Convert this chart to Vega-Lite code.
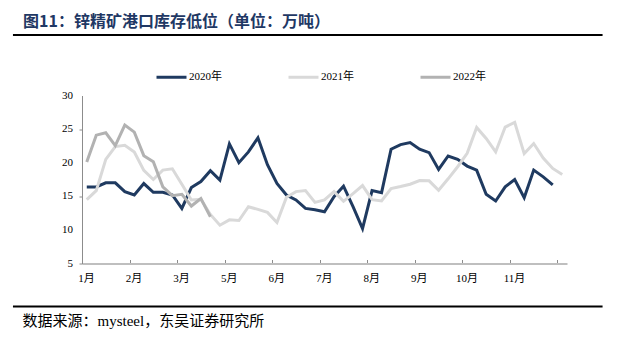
{
  "$schema": "https://vega.github.io/schema/vega-lite/v6.json",
  "width": 485,
  "height": 168,
  "autosize": "none",
  "padding": {"left": 82, "top": 95.5, "right": 66, "bottom": 82.5},
  "background": "white",
  "config": {
    "view": {"stroke": null},
    "font": "Liberation Serif",
    "axis": {"labelFlush": false, "labelBound": false}
  },
  "title": {
    "text": "图11：锌精矿港口库存低位（单位：万吨）",
    "anchor": "start",
    "frame": "group",
    "dx": -59,
    "fontSize": 16,
    "fontWeight": "bold",
    "color": "#1f3864",
    "font": "Noto Sans CJK SC"
  },
  "datasets": {
    "series": [
      {"week": 0, "series": "2020年", "value": 16.4},
      {"week": 1, "series": "2020年", "value": 16.4},
      {"week": 2, "series": "2020年", "value": 17.0},
      {"week": 3, "series": "2020年", "value": 17.0},
      {"week": 4, "series": "2020年", "value": 15.7},
      {"week": 5, "series": "2020年", "value": 15.2},
      {"week": 6, "series": "2020年", "value": 16.9},
      {"week": 7, "series": "2020年", "value": 15.6},
      {"week": 8, "series": "2020年", "value": 15.6},
      {"week": 9, "series": "2020年", "value": 15.2},
      {"week": 10, "series": "2020年", "value": 13.2},
      {"week": 11, "series": "2020年", "value": 16.3},
      {"week": 12, "series": "2020年", "value": 17.2},
      {"week": 13, "series": "2020年", "value": 18.8},
      {"week": 14, "series": "2020年", "value": 17.4},
      {"week": 15, "series": "2020年", "value": 22.8},
      {"week": 16, "series": "2020年", "value": 20.0},
      {"week": 17, "series": "2020年", "value": 21.6},
      {"week": 18, "series": "2020年", "value": 23.7},
      {"week": 19, "series": "2020年", "value": 19.7},
      {"week": 20, "series": "2020年", "value": 16.9},
      {"week": 21, "series": "2020年", "value": 15.2},
      {"week": 22, "series": "2020年", "value": 14.45},
      {"week": 23, "series": "2020年", "value": 13.2},
      {"week": 24, "series": "2020年", "value": 13.0},
      {"week": 25, "series": "2020年", "value": 12.7},
      {"week": 26, "series": "2020年", "value": 14.95},
      {"week": 27, "series": "2020年", "value": 16.5},
      {"week": 28, "series": "2020年", "value": 13.45},
      {"week": 29, "series": "2020年", "value": 10.2},
      {"week": 30, "series": "2020年", "value": 15.85},
      {"week": 31, "series": "2020年", "value": 15.55},
      {"week": 32, "series": "2020年", "value": 22.0},
      {"week": 33, "series": "2020年", "value": 22.7},
      {"week": 34, "series": "2020年", "value": 23.0},
      {"week": 35, "series": "2020年", "value": 22.0},
      {"week": 36, "series": "2020年", "value": 21.5},
      {"week": 37, "series": "2020年", "value": 19.0},
      {"week": 38, "series": "2020年", "value": 21.0},
      {"week": 39, "series": "2020年", "value": 20.5},
      {"week": 40, "series": "2020年", "value": 19.5},
      {"week": 41, "series": "2020年", "value": 18.9},
      {"week": 42, "series": "2020年", "value": 15.3},
      {"week": 43, "series": "2020年", "value": 14.3},
      {"week": 44, "series": "2020年", "value": 16.4},
      {"week": 45, "series": "2020年", "value": 17.5},
      {"week": 46, "series": "2020年", "value": 14.8},
      {"week": 47, "series": "2020年", "value": 18.9},
      {"week": 48, "series": "2020年", "value": 17.9},
      {"week": 49, "series": "2020年", "value": 16.7},
      {"week": 0, "series": "2021年", "value": 14.5},
      {"week": 1, "series": "2021年", "value": 15.85},
      {"week": 2, "series": "2021年", "value": 20.5},
      {"week": 3, "series": "2021年", "value": 22.4},
      {"week": 4, "series": "2021年", "value": 22.6},
      {"week": 5, "series": "2021年", "value": 21.6},
      {"week": 6, "series": "2021年", "value": 18.85},
      {"week": 7, "series": "2021年", "value": 17.5},
      {"week": 8, "series": "2021年", "value": 18.9},
      {"week": 9, "series": "2021年", "value": 19.1},
      {"week": 10, "series": "2021年", "value": 16.8},
      {"week": 11, "series": "2021年", "value": 14.45},
      {"week": 12, "series": "2021年", "value": 14.55},
      {"week": 13, "series": "2021年", "value": 12.3},
      {"week": 14, "series": "2021年", "value": 10.7},
      {"week": 15, "series": "2021年", "value": 11.5},
      {"week": 16, "series": "2021年", "value": 11.4},
      {"week": 17, "series": "2021年", "value": 13.45},
      {"week": 18, "series": "2021年", "value": 13.05},
      {"week": 19, "series": "2021年", "value": 12.6},
      {"week": 20, "series": "2021年", "value": 11.1},
      {"week": 21, "series": "2021年", "value": 14.85},
      {"week": 22, "series": "2021年", "value": 15.7},
      {"week": 23, "series": "2021年", "value": 15.85},
      {"week": 24, "series": "2021年", "value": 14.1},
      {"week": 25, "series": "2021年", "value": 14.45},
      {"week": 26, "series": "2021年", "value": 15.7},
      {"week": 27, "series": "2021年", "value": 14.25},
      {"week": 28, "series": "2021年", "value": 15.4},
      {"week": 29, "series": "2021年", "value": 16.6},
      {"week": 30, "series": "2021年", "value": 14.5},
      {"week": 31, "series": "2021年", "value": 14.3},
      {"week": 32, "series": "2021年", "value": 16.15},
      {"week": 33, "series": "2021年", "value": 16.45},
      {"week": 34, "series": "2021年", "value": 16.8},
      {"week": 35, "series": "2021年", "value": 17.35},
      {"week": 36, "series": "2021年", "value": 17.3},
      {"week": 37, "series": "2021年", "value": 15.9},
      {"week": 38, "series": "2021年", "value": 17.6},
      {"week": 39, "series": "2021年", "value": 19.4},
      {"week": 40, "series": "2021年", "value": 21.4},
      {"week": 41, "series": "2021年", "value": 25.25},
      {"week": 42, "series": "2021年", "value": 23.6},
      {"week": 43, "series": "2021年", "value": 21.6},
      {"week": 44, "series": "2021年", "value": 25.3},
      {"week": 45, "series": "2021年", "value": 26.0},
      {"week": 46, "series": "2021年", "value": 21.35},
      {"week": 47, "series": "2021年", "value": 22.85},
      {"week": 48, "series": "2021年", "value": 20.7},
      {"week": 49, "series": "2021年", "value": 19.15},
      {"week": 50, "series": "2021年", "value": 18.25},
      {"week": 0, "series": "2022年", "value": 20.1},
      {"week": 1, "series": "2022年", "value": 24.1},
      {"week": 2, "series": "2022年", "value": 24.45},
      {"week": 3, "series": "2022年", "value": 22.55},
      {"week": 4, "series": "2022年", "value": 25.6},
      {"week": 5, "series": "2022年", "value": 24.55},
      {"week": 6, "series": "2022年", "value": 21.05},
      {"week": 7, "series": "2022年", "value": 20.15},
      {"week": 8, "series": "2022年", "value": 16.4},
      {"week": 9, "series": "2022年", "value": 15.1},
      {"week": 10, "series": "2022年", "value": 15.3},
      {"week": 11, "series": "2022年", "value": 13.55},
      {"week": 12, "series": "2022年", "value": 14.65},
      {"week": 13, "series": "2022年", "value": 11.95}
    ]
  },
  "layer": [
    {
      "data": {"values": [{}]},
      "mark": {"type": "rule", "color": "#000000", "strokeWidth": 2},
      "encoding": {
        "x": {"datum": -7.76, "type": "quantitative"},
        "x2": {"datum": 54.24},
        "y": {"datum": 39.0, "type": "quantitative"}
      }
    },
    {
      "data": {"values": [{}]},
      "mark": {"type": "rule", "color": "#000000", "strokeWidth": 2},
      "encoding": {
        "x": {"datum": -7.76, "type": "quantitative"},
        "x2": {"datum": 54.24},
        "y": {"datum": -1.4, "type": "quantitative"}
      }
    },
    {
      "data": {"values": [{"tick": 5}, {"tick": 10}, {"tick": 15}, {"tick": 20}, {"tick": 25}, {"tick": 30}]},
      "mark": {"type": "text", "align": "right", "baseline": "middle", "font": "Liberation Serif", "fontSize": 11, "color": "#000000"},
      "encoding": {
        "x": {"datum": -1.45, "type": "quantitative"},
        "y": {"field": "tick", "type": "quantitative", "axis": {"title": null, "labels": false}},
        "text": {"field": "tick", "type": "quantitative"}
      }
    },
    {
      "data": {"name": "series"},
      "mark": {"type": "line", "strokeWidth": 3},
      "encoding": {
        "x": {
          "field": "week",
          "type": "quantitative",
          "scale": {"domain": [-0.5, 50.5], "nice": false, "zero": false},
          "axis": {
            "values": [-0.5, 4.5, 9.5, 14.5, 19.5, 24.5, 29.5, 34.5, 39.5, 44.5, 49.5],
            "labelExpr": "['1月','2月','3月','5月','6月','7月','8月','9月','10月','11月',''][round((datum.value+0.5)/5)]",
            "labelOffset": 4,
            "labelOverlap": false,
            "labelFont": "Liberation Serif, Noto Sans CJK SC",
            "labelFontSize": 11,
            "labelColor": "#000000",
            "labelPadding": 13,
            "tickSize": -4,
            "tickColor": "#8c8c8c",
            "domainColor": "#bfbfbf",
            "domainWidth": 2,
            "grid": false,
            "title": "数据来源：mysteel，东吴证券研究所",
            "titleAnchor": "start",
            "titleAlign": "left",
            "titleBaseline": "top",
            "titleX": -60,
            "titleY": 50,
            "titleFont": "Liberation Serif, Noto Sans CJK SC",
            "titleFontSize": 15,
            "titleFontWeight": "normal",
            "titleColor": "#000000"
          }
        },
        "y": {
          "field": "value",
          "type": "quantitative",
          "scale": {"domain": [5, 30], "nice": false, "zero": false},
          "axis": {
            "values": [5, 10, 15, 20, 25, 30],
            "labels": false,
            "tickSize": 3,
            "domainColor": "#8c8c8c",
            "tickColor": "#8c8c8c",
            "grid": false,
            "title": null
          }
        },
        "color": {
          "field": "series",
          "type": "nominal",
          "scale": {"domain": ["2020年", "2021年", "2022年"], "range": ["#1f3a60", "#d9d9d9", "#b2b2b2"]},
          "legend": {
            "orient": "none",
            "legendX": 73,
            "legendY": -35,
            "direction": "horizontal",
            "title": null,
            "symbolType": "stroke",
            "symbolSize": 900,
            "symbolStrokeWidth": 3,
            "labelFont": "Liberation Serif, Noto Sans CJK SC",
            "labelFontSize": 11,
            "labelColor": "#000000",
            "labelOffset": 1,
            "columnPadding": 60
          }
        }
      }
    }
  ]
}
